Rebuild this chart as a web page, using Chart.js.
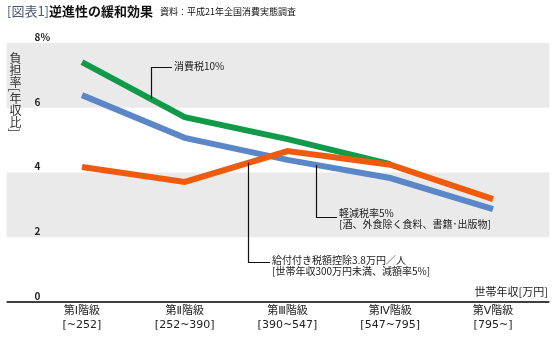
<!DOCTYPE html>
<html lang="ja">
<head>
<meta charset="utf-8">
<script src="https://cdn.jsdelivr.net/npm/chart.js@4"></script>
<style>
  body { margin: 0; background: #fff; }
  #wrap { position: relative; width: 557px; height: 339px; font-family: "Noto Sans CJK JP", "Noto Sans", sans-serif; color: #111; }
  #chart { position: absolute; left: 0; top: 0; }
  .title { position: absolute; left: 7px; top: 1px; font-size: 13px; white-space: nowrap; }
  .title .no { color: #4a5573; }
  .title .main { font-weight: bold; }
  .title .src { font-size: 9px; margin-left: 7px; vertical-align: 1px; }
  .ylabel { position: absolute; left: 9px; top: 52px; writing-mode: vertical-rl; font-size: 12px; line-height: 12px; color: #333; }
  .xlabel { position: absolute; right: 9px; top: 283px; font-size: 11px; color: #222; }
</style>
</head>
<body>
<div id="wrap">
  <canvas id="chart" width="557" height="339"></canvas>
  <div class="title"><span class="no">[図表1]</span><span class="main">逆進性の緩和効果</span><span class="src">資料：平成21年全国消費実態調査</span></div>
  <div class="ylabel">負担率[年収比]</div>
  <div class="xlabel">世帯年収[万円]</div>
</div>
<script>
const classes = ['第Ⅰ階級', '第Ⅱ階級', '第Ⅲ階級', '第Ⅳ階級', '第Ⅴ階級'];
const ranges = ['[~252]', '[252~390]', '[390~547]', '[547~795]', '[795~]'];

// 負担率（年収比, %）
const tax10 = [7.41, 5.71, 5.03, 4.26, null];
const reduced5 = [6.39, 5.07, 4.39, 3.83, 2.87];
const credit = [4.17, 3.71, 4.66, 4.24, 3.18];

const yTicks = [0, 2, 4, 6, 8];

// shaded bands behind everything
const bands = [[8, 6], [4, 2]];

// leader lines + notes; "at" is a fractional category index on the line
const notes = [
  { series: '消費税10%', at: 0.67, elbowY: 67, textX: 174, textY: 66, lines: ['消費税10%'] },
  { series: '軽減税率5%', at: 2.28, elbowY: 217, textX: 339, textY: 213, lines: ['軽減税率5%', '[酒、外食除く食料、書籍･出版物]'] },
  { series: '給付付き税額控除', at: 1.62, elbowY: 262, textX: 272, textY: 260, lines: ['給付付き税額控除3.8万円／人', '[世帯年収300万円未満、減額率5%]'] }
];

const FONT = '"Noto Sans CJK JP", "Noto Sans", sans-serif';
Chart.defaults.font.family = FONT;

const backdrop = {
  id: 'backdrop',
  beforeDraw(chart) {
    const { ctx, chartArea: a, scales: { y } } = chart;
    const x0 = a.left - 24, x1 = a.right + 5;
    ctx.save();
    ctx.fillStyle = '#eaeaea';
    bands.forEach(([hi, lo]) => {
      const t = y.getPixelForValue(hi), b = y.getPixelForValue(lo);
      ctx.fillRect(x0, t, x1 - x0, b - t);
    });
    ctx.strokeStyle = '#000';
    ctx.lineWidth = 1.5;
    const zy = y.getPixelForValue(0);
    ctx.beginPath();
    ctx.moveTo(x0, zy);
    ctx.lineTo(x1, zy);
    ctx.stroke();
    ctx.restore();
  }
};

const leaders = {
  id: 'leaders',
  afterDatasetsDraw(chart) {
    const { ctx, scales: { x, y } } = chart;
    ctx.save();
    ctx.strokeStyle = '#111';
    ctx.lineWidth = 1.2;
    ctx.fillStyle = '#1a1a1a';
    ctx.font = '10px ' + FONT;
    ctx.textBaseline = 'middle';
    notes.forEach(n => {
      const data = chart.data.datasets.find(d => d.label === n.series).data;
      const i = Math.floor(n.at), f = n.at - i;
      const v = data[i] + (data[i + 1] - data[i]) * f;
      const px = Math.round(x.getPixelForValue(n.at)) + 0.5;
      const py = y.getPixelForValue(v);
      ctx.beginPath();
      ctx.moveTo(px, py);
      ctx.lineTo(px, n.elbowY + 0.5);
      ctx.lineTo(n.textX - 2, n.elbowY + 0.5);
      ctx.stroke();
      n.lines.forEach((t, k) => ctx.fillText(t, n.textX, n.textY + k * 11));
    });
    ctx.restore();
  }
};

new Chart(document.getElementById('chart'), {
  type: 'line',
  data: {
    labels: classes.map((c, i) => [c, ranges[i]]),
    datasets: [
      { label: '給付付き税額控除', data: credit, borderColor: '#ef5a0c' },
      { label: '軽減税率5%', data: reduced5, borderColor: '#5b86c8' },
      { label: '消費税10%', data: tax10, borderColor: '#109a4a' }
    ]
  },
  options: {
    responsive: false,
    animation: false,
    events: [],
    elements: {
      line: { borderWidth: 6, tension: 0, borderJoinStyle: 'miter', borderCapStyle: 'butt' },
      point: { radius: 0 }
    },
    layout: { padding: { left: 30.6, right: 12.6, top: 43, bottom: 0 } },
    plugins: { legend: { display: false }, tooltip: { enabled: false } },
    scales: {
      x: {
        offset: true,
        grid: { display: false, drawTicks: false },
        border: { display: false },
        ticks: {
          color: '#222',
          font: { family: '"DejaVu Sans", ' + FONT, size: 11, lineHeight: 1.2 },
          padding: 3,
          autoSkip: false,
          maxRotation: 0
        },
        afterFit: s => { s.height = 37; }
      },
      y: {
        min: 0,
        max: 8,
        afterBuildTicks: s => { s.ticks = yTicks.map(v => ({ value: v })); },
        grid: { display: false, drawTicks: false },
        border: { display: false },
        ticks: {
          mirror: true,
          autoSkip: false,
          padding: 4,
          labelOffset: -6,
          color: '#222',
          font: { size: 10, weight: 'bold' },
          callback: v => v === 8 ? '8%' : v
        },
        afterFit: s => { s.width = 0; }
      }
    }
  },
  plugins: [backdrop, leaders]
});
</script>
</body>
</html>
